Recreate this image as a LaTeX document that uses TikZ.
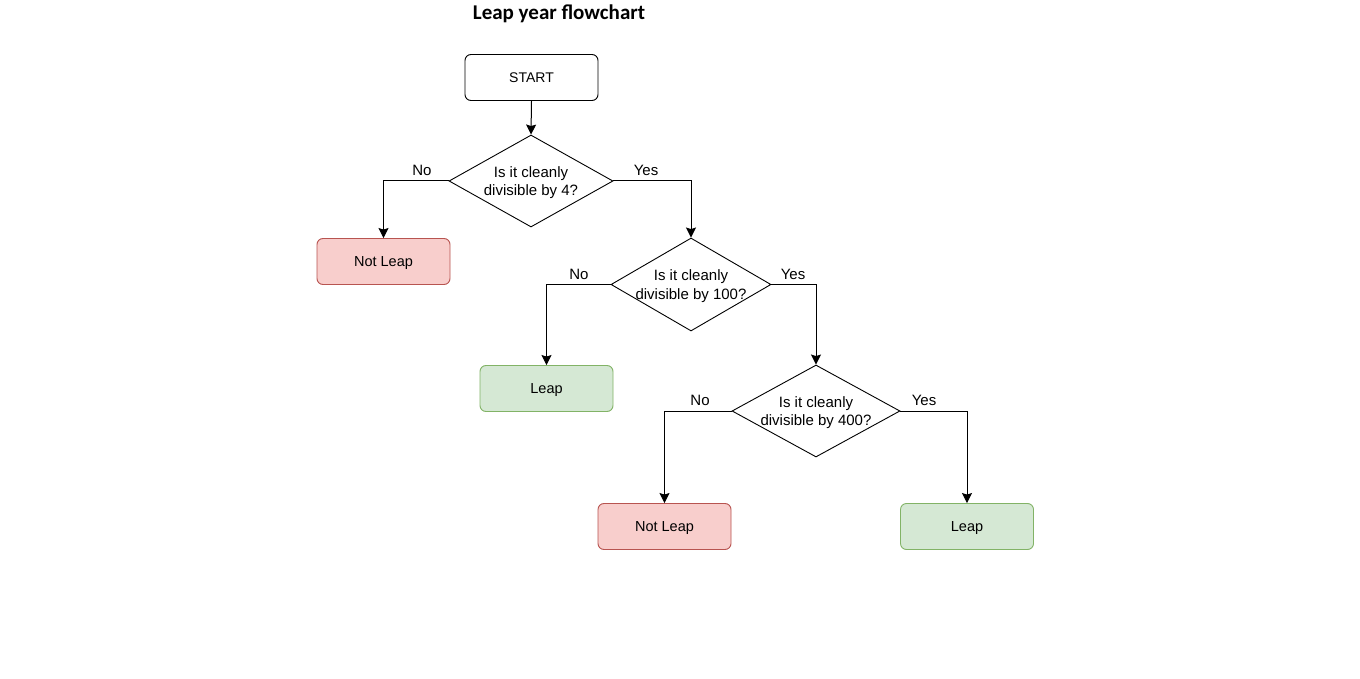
\documentclass[tikz,border=0pt]{standalone}
\usepackage{fontspec}
\setmainfont{Liberation Sans}
\newfontfamily\titlefont{Carlito}
\usetikzlibrary{shapes.geometric,arrows.meta}
\definecolor{redfill}{HTML}{F8CECC}
\definecolor{redline}{HTML}{B85450}
\definecolor{greenfill}{HTML}{D5E8D4}
\definecolor{greenline}{HTML}{82B366}
\tikzset{
  box/.style={draw, rounded corners=6pt, minimum width=133pt, minimum height=46pt, inner sep=0pt, line width=0.9pt, text depth=0pt, font=\fontsize{14.5}{17}\selectfont},
  startbox/.style={box, fill=white, draw=black, font=\fontsize{14}{17}\selectfont},
  redbox/.style={box, fill=redfill, draw=redline},
  greenbox/.style={box, fill=greenfill, draw=greenline},
  decision/.style={draw, diamond, aspect=1.78, inner sep=-12pt, line width=0.9pt, align=center, text depth=-1pt, font=\fontsize{15}{18.5}\selectfont},
  conn/.style={draw, line width=1pt, -{Stealth[length=10pt,width=10pt,inset=1.5pt]}},
  lbl/.style={font=\fontsize{15}{18}\selectfont, inner sep=0pt},
}
\begin{document}
\begin{tikzpicture}[x=1pt,y=-1pt]
\path[use as bounding box, fill=white] (0,0) rectangle (1360,679);
\node[font=\titlefont\bfseries\fontsize{21}{25}\selectfont] (title) at (559,13.5) {Leap year flowchart};
\node[startbox] (start) at (531.5,77.5) {START};
\node[decision, minimum width=164pt, minimum height=92pt] (d1) at (531,181) {Is it cleanly\\divisible by 4?};
\node[redbox] (nl1) at (383.5,261.5) {Not Leap};
\node[decision, minimum width=160pt, minimum height=93pt] (d2) at (691,284.5) {Is it cleanly\\divisible by 100?};
\node[greenbox] (l1) at (546.5,388.5) {Leap};
\node[decision, minimum width=168pt, minimum height=92pt] (d3) at (816,411) {Is it cleanly\\divisible by 400?};
\node[redbox] (nl2) at (664.5,526.5) {Not Leap};
\node[greenbox] (l2) at (967,526.5) {Leap};

\draw[conn] (start.south) -- (d1.north);
\draw[conn] (d1.west) -| (nl1.north);
\draw[conn] (d1.east) -| (d2.north);
\draw[conn] (d2.west) -| (l1.north);
\draw[conn] (d2.east) -| (d3.north);
\draw[conn] (d3.west) -| (nl2.north);
\draw[conn] (d3.east) -| (l2.north);

\node[lbl] (n1) at (422,170.5) {No};
\node[lbl] (y1) at (646,170.5) {Yes};
\node[lbl] (n2) at (579,274) {No};
\node[lbl] (y2) at (793,274) {Yes};
\node[lbl] (n3) at (700,400.5) {No};
\node[lbl] (y3) at (924,400.5) {Yes};
\end{tikzpicture}
\end{document}
